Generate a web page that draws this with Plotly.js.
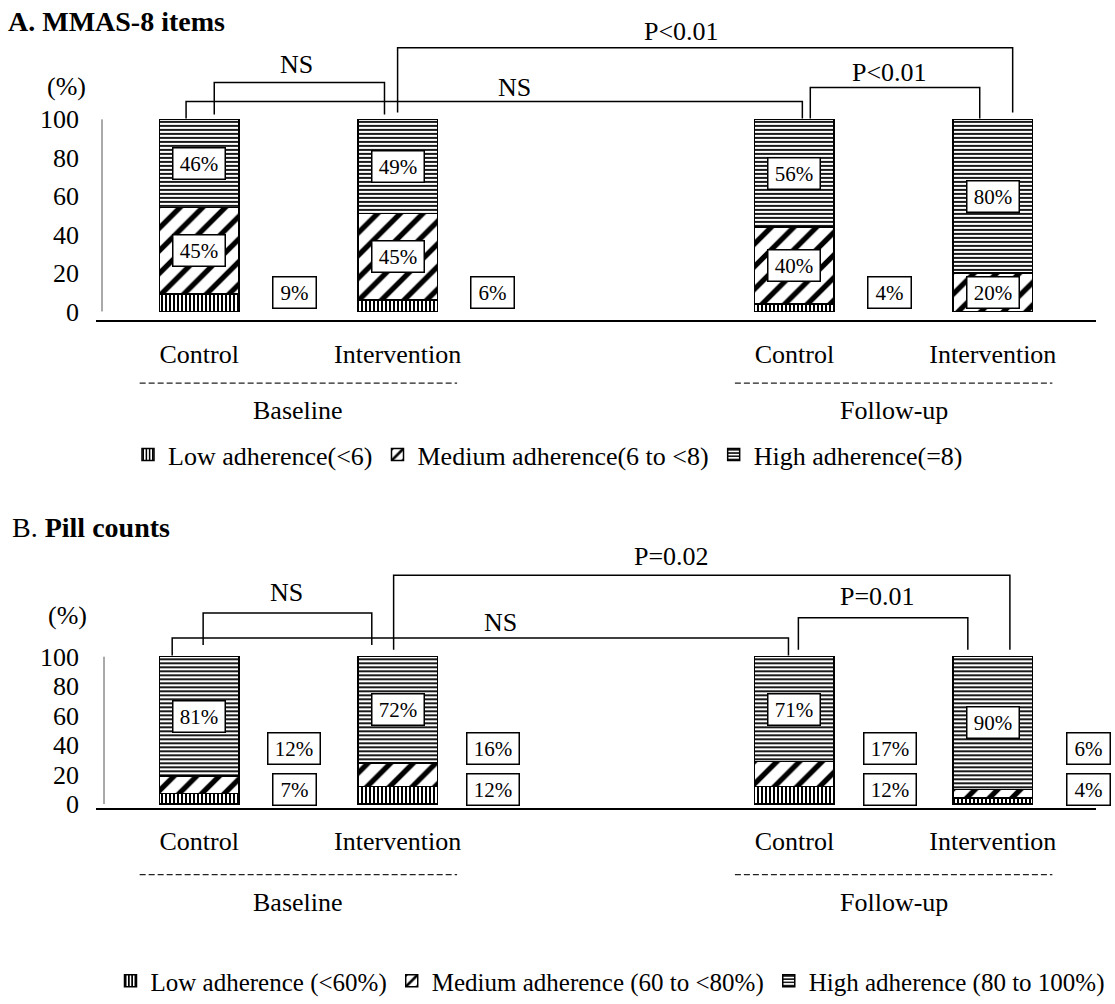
<!DOCTYPE html>
<html>
<head>
<meta charset="utf-8">
<script src="https://cdn.plot.ly/plotly-3.0.1.min.js"></script>
<style>
  html, body { margin: 0; padding: 0; background: #fff; }
  #chart { width: 1115px; height: 1004px; }
</style>
</head>
<body>
<div id="chart"></div>
<script>
// ---- data -------------------------------------------------------------
const groups = ['Baseline', 'Follow-up'];
const arms = ['Control', 'Intervention'];

// MMAS-8 adherence (% of patients), order: Baseline Control, Baseline Intervention,
// Follow-up Control, Follow-up Intervention
const mmasLow = [9, 6, 4, 0];
const mmasMedium = [45, 45, 40, 20];
const mmasHigh = [46, 49, 56, 80];
const mmasLegend = ['Low adherence(<6)', 'Medium adherence(6 to <8)', 'High adherence(=8)'];
const mmasTests = ['NS', 'NS', 'P<0.01', 'P<0.01'];

// Pill-count adherence (% of patients), same order
const pillLow = [7, 12, 12, 4];
const pillMedium = [12, 16, 17, 6];
const pillHigh = [81, 72, 71, 90];
const pillLegend = ['Low adherence (<60%)', 'Medium adherence (60 to <80%)', 'High adherence (80 to 100%)'];
const pillTests = ['NS', 'NS', 'P=0.02', 'P=0.01'];

const yTicks = [0, 20, 40, 60, 80, 100];

// ---- layout helpers ---------------------------------------------------
const W = 1115, H = 1004;
const FONT = 'Liberation Serif, serif';
const px = v => v / W;          // horizontal pixel -> paper
const py = v => 1 - v / H;      // vertical pixel -> paper

// each group takes three slots: two arms and one empty spacer
const slots = groups.flatMap((g, gi) => arms.map((a, ai) => gi * 3 + ai + 1));
const tickText = groups.flatMap(() => arms);

const patterns = [
  { shape: '|', size: 4, solidity: 0.5 },
  { shape: '/', size: 16, solidity: 0.33 },
  { shape: '-', size: 4, solidity: 0.45 }
];

const textFont = () => ({ family: FONT, size: 26, color: 'black' });

function barTraces(series, names, xa, ya, legend) {
  return series.map((vals, i) => ({
    type: 'bar',
    x: slots,
    y: vals,
    name: names[i],
    xaxis: xa,
    yaxis: ya,
    legend: legend,
    width: 0.4,
    hoverinfo: 'skip',
    marker: {
      color: 'white',
      line: { color: 'black', width: 1.5 },
      pattern: Object.assign({ fgcolor: 'black', bgcolor: 'white', fillmode: 'replace' }, patterns[i])
    }
  }));
}

// percentage boxes: inside a segment at its midpoint, or beside the bar at a fixed height
function percentLabels(series, xa, ya, placement) {
  const out = [];
  slots.forEach((x, j) => {
    let base = 0;
    series.forEach((vals, i) => {
      const v = vals[j];
      const mid = base + v / 2;
      base += v;
      if (!v) return;
      const place = placement[i];
      const t = v + '%';
      out.push({
        xref: xa, yref: ya,
        x: place === 'inside' ? x : x + 0.48,
        y: place === 'inside' ? mid : place,
        xanchor: 'center', yanchor: 'middle',
        text: t,
        showarrow: false,
        font: { family: FONT, size: 21, color: 'black' },
        bgcolor: 'white',
        bordercolor: 'black',
        borderwidth: 1.5,
        borderpad: 3,
        width: 9 * t.length + 18
      });
    });
  });
  return out;
}

// significance brackets: legs hang down towards the compared bars
function brackets(geom, labels, xa, ya) {
  const shapes = [], notes = [];
  geom.forEach((b, i) => {
    shapes.push({
      type: 'path', xref: xa, yref: ya,
      path: `M${b.x0},${b.b} L${b.x0},${b.top} L${b.x1},${b.top} L${b.x1},${b.b}`,
      line: { color: 'black', width: 1.5 }
    });
    notes.push({
      xref: xa, yref: ya, x: b.tx, y: b.ty, xanchor: 'center', yanchor: 'middle',
      text: labels[i], showarrow: false, font: textFont()
    });
  });
  return { shapes, notes };
}

const bracketGeomA = [
  { x0: 1.076, x1: 1.934, top: 119.2, b: 102.6, tx: 1.49, ty: 128.5 },
  { x0: 0.934, x1: 4.04, top: 109.3, b: 100.5, tx: 2.59, ty: 116.6 },
  { x0: 2.0, x1: 5.10, top: 137.3, b: 103.6, tx: 3.43, ty: 145.6 },
  { x0: 4.08, x1: 4.934, top: 116.6, b: 100.5, tx: 4.48, ty: 124.4 }
];
const bracketGeomB = [
  { x0: 1.02, x1: 1.87, top: 129.7, b: 108, tx: 1.44, ty: 143.9 },
  { x0: 0.864, x1: 3.97, top: 112.8, b: 100.8, tx: 2.52, ty: 123 },
  { x0: 1.98, x1: 5.086, top: 155.4, b: 104.7, tx: 3.38, ty: 168.2 },
  { x0: 4.02, x1: 4.874, top: 126.4, b: 104.7, tx: 4.42, ty: 141 }
];

// group captions under the category labels, with a dashed rule above each
function groupCaptions(xa, ruleY, textY) {
  const shapes = [], notes = [];
  groups.forEach((g, gi) => {
    const c = gi * 3 + 1.5;
    shapes.push({
      type: 'line', xref: xa, yref: 'paper', x0: c - 0.8, x1: c + 0.8, y0: ruleY, y1: ruleY,
      line: { color: '#222', width: 1.3, dash: '6px,3px' }
    });
    notes.push({
      xref: xa, yref: 'paper', x: c, y: textY, xanchor: 'center', yanchor: 'middle',
      text: g, showarrow: false, font: textFont()
    });
  });
  return { shapes, notes };
}

// ---- assemble ---------------------------------------------------------
const seriesA = [mmasLow, mmasMedium, mmasHigh];
const seriesB = [pillLow, pillMedium, pillHigh];

const traces = [
  ...barTraces(seriesA, mmasLegend, 'x', 'y', 'legend'),
  ...barTraces(seriesB, pillLegend, 'x2', 'y2', 'legend2')
];

const brA = brackets(bracketGeomA, mmasTests, 'x', 'y');
const brB = brackets(bracketGeomB, pillTests, 'x2', 'y2');
const gcA = groupCaptions('x', py(385), py(413));
const gcB = groupCaptions('x2', py(879), py(907));

const yAxisLine = (ya, xpx) => ({
  type: 'line', xref: 'paper', yref: ya, x0: px(xpx), x1: px(xpx), y0: 0, y1: 100,
  line: { color: '#555', width: 1 }
});

const paperNote = (x, y, text, anchor, font) => ({
  xref: 'paper', yref: 'paper', x: px(x), y: py(y), xanchor: anchor, yanchor: 'middle',
  text: text, showarrow: false, font: font
});

const annotations = [
  paperNote(6, 22, '<b>A. MMAS-8 items</b>', 'left', { family: FONT, size: 28, color: 'black' }),
  paperNote(10, 530, 'B. <b>Pill counts</b>', 'left', { family: FONT, size: 28, color: 'black' }),
  paperNote(66, 87, '(%)', 'center', textFont()),
  paperNote(67, 619, '(%)', 'center', textFont()),
  ...brA.notes, ...brB.notes, ...gcA.notes, ...gcB.notes,
  ...percentLabels(seriesA, 'x', 'y', [10, 'inside', 'inside']),
  ...percentLabels(seriesB, 'x2', 'y2', [10, 38, 'inside'])
];

const shapes = [
  yAxisLine('y', 102), yAxisLine('y2', 104),
  ...brA.shapes, ...brB.shapes, ...gcA.shapes, ...gcB.shapes
];

const xAxisBase = () => ({
  domain: [px(96), px(1096)],
  range: [0.48, 5.52],
  showline: true, linecolor: 'black', linewidth: 2,
  showgrid: false, zeroline: false, ticks: '',
  tickmode: 'array', tickvals: slots, ticktext: tickText,
  tickfont: textFont(), ticklabelstandoff: 9,
  fixedrange: true
});
const yAxisBase = () => ({
  showline: false, showgrid: false, zeroline: false, ticks: '',
  tickmode: 'array', tickvals: yTicks,
  tickfont: textFont(), ticklabelstandoff: 16,
  fixedrange: true
});

const layout = {
  width: W, height: H,
  margin: { l: 0, r: 0, t: 0, b: 0 },
  paper_bgcolor: 'white', plot_bgcolor: 'white',
  barmode: 'stack',
  font: { family: FONT, color: 'black' },
  showlegend: true,
  xaxis: Object.assign(xAxisBase(), { anchor: 'y' }),
  yaxis: Object.assign(yAxisBase(), { anchor: 'x', domain: [py(322), py(20)], range: [-4.66, 151.8] }),
  xaxis2: Object.assign(xAxisBase(), { anchor: 'y2' }),
  yaxis2: Object.assign(yAxisBase(), { anchor: 'x2', domain: [py(812), py(540)], range: [-2.7, 181.1] }),
  legend: {
    orientation: 'h', x: px(548), xanchor: 'center', y: py(457), yanchor: 'middle',
    font: { family: FONT, size: 26, color: 'black' }, traceorder: 'normal',
    bgcolor: 'rgba(0,0,0,0)'
  },
  legend2: {
    orientation: 'h', x: px(610), xanchor: 'center', y: py(986), yanchor: 'middle',
    font: { family: FONT, size: 25, color: 'black' }, traceorder: 'normal',
    bgcolor: 'rgba(0,0,0,0)'
  },
  annotations: annotations,
  shapes: shapes
};

Plotly.newPlot('chart', traces, layout, { displayModeBar: false, staticPlot: true });
</script>
</body>
</html>
